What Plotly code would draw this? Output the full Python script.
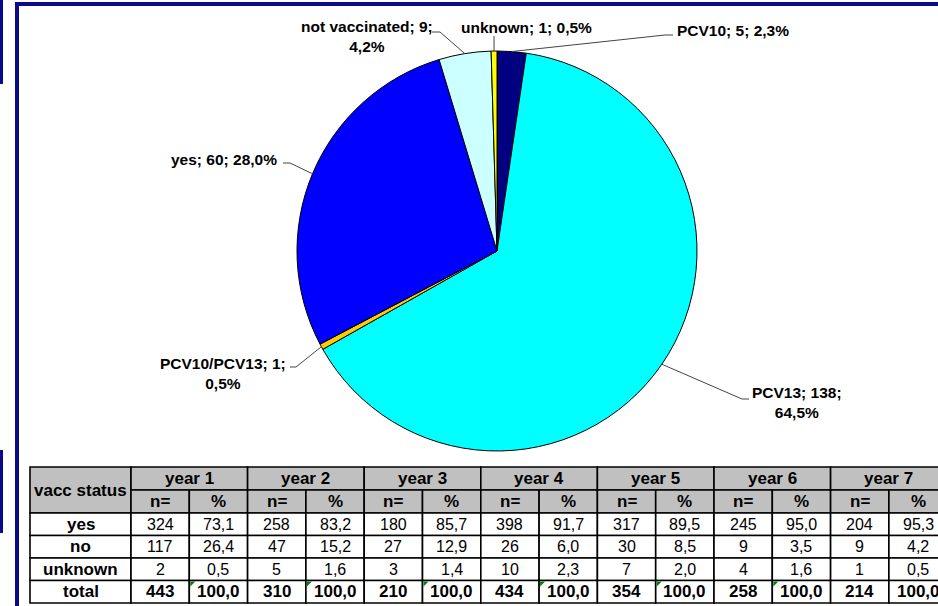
import math
import plotly.graph_objects as go

W, H = 938, 606

# --- pie data (clockwise from 12 o'clock) ---
slice_labels = ["PCV10", "PCV13", "PCV10/PCV13", "yes", "not vaccinated", "unknown"]
slice_counts = [5, 138, 1, 60, 9, 1]
slice_pcts = [2.3, 64.5, 0.5, 28.0, 4.2, 0.5]
slice_colors = ["#000080", "#00FFFF", "#FFCC00", "#0000FF", "#CCFFFF", "#FFFF00"]

# --- table data ---
years = ["year 1", "year 2", "year 3", "year 4", "year 5", "year 6", "year 7"]
status = ["yes", "no", "unknown", "total"]
n_yes = [324, 258, 180, 398, 317, 245, 204]
n_no = [117, 47, 27, 26, 30, 9, 9]
n_unknown = [2, 5, 3, 10, 7, 4, 1]
n_total = [443, 310, 210, 434, 354, 258, 214]
pct_yes = [73.1, 83.2, 85.7, 91.7, 89.5, 95.0, 95.3]
pct_no = [26.4, 15.2, 12.9, 6.0, 8.5, 3.5, 4.2]
pct_unknown = [0.5, 1.6, 1.4, 2.3, 2.0, 1.6, 0.5]
pct_total = [100.0, 100.0, 100.0, 100.0, 100.0, 100.0, 100.0]

FONT = "Liberation Sans, Arial, sans-serif"
NAVY = "#0A0A8C"


def fx(x):
    return x / W


def fy(y):
    return 1 - y / H


def comma(v, d=1):
    return f"{v:.{d}f}".replace(".", ",")


# pie geometry (pixels)
CX, CY, R = 497, 251, 200

fig = go.Figure(go.Pie(
    labels=slice_labels, values=slice_counts,
    marker=dict(colors=slice_colors, line=dict(color="black", width=1)),
    sort=False, direction="clockwise", rotation=0,
    textinfo="none", showlegend=False,
    domain=dict(x=[fx(CX - R), fx(CX + R)], y=[fy(CY + R), fy(CY - R)]),
))

shapes = []
annotations = []

# label placement: text centre, anchor, leader elbow and tick end (pixels)
label_pos = {
    "PCV10": dict(x=675, y=30, xanchor="left", elbow=(665, 35), tick=(673, 35)),
    "PCV13": dict(x=797, y=402, xanchor="center", elbow=(742, 399), tick=(749, 399)),
    "PCV10/PCV13": dict(x=223, y=373, xanchor="center", elbow=(296, 367), tick=(290, 367)),
    "yes": dict(x=279, y=160, xanchor="right", elbow=(290, 163), tick=(283, 163)),
    "not vaccinated": dict(x=367, y=36, xanchor="center", elbow=(440, 32), tick=(432, 32)),
    "unknown": dict(x=526, y=27, xanchor="center", elbow=(494, 36), tick=(494, 36)),
}
two_line = {"PCV13", "PCV10/PCV13", "not vaccinated"}

total = sum(slice_counts)
cum = 0
for lab, cnt, pct in zip(slice_labels, slice_counts, slice_pcts):
    mid = (cum + cnt / 2) / total * 2 * math.pi
    cum += cnt
    px_, py_ = CX + R * math.sin(mid), CY - R * math.cos(mid)
    p = label_pos[lab]
    ex, ey = p["elbow"]
    tx, ty = p["tick"]
    shapes.append(dict(type="path", xref="paper", yref="paper",
                       path=f"M {fx(px_)} {fy(py_)} L {fx(ex)} {fy(ey)} L {fx(tx)} {fy(ty)}",
                       line=dict(color="#444444", width=1)))
    if lab in two_line:
        txt = f"<b>{lab}; {cnt};<br>{comma(pct)}%</b>"
    else:
        txt = f"<b>{lab}; {cnt}; {comma(pct)}%</b>"
    annotations.append(dict(x=fx(p["x"]), y=fy(p["y"]), xref="paper", yref="paper",
                            text=txt, showarrow=False, xanchor=p["xanchor"],
                            yanchor="middle", align="center",
                            font=dict(family=FONT, size=15.5, color="black")))

# --- table ---
T_LEFT, FIRST_W, YEAR_W = 30, 101, 116.6
ROW_Y = [467, 490, 513, 535.5, 558, 580.5, 603]
HEAD_BG = "#C0C0C0"
LW = 1.6


def cell(x0, y0, x1, y1, fill="white"):
    shapes.append(dict(type="rect", xref="paper", yref="paper",
                       x0=fx(x0), x1=fx(x1), y0=fy(y1), y1=fy(y0),
                       fillcolor=fill, line=dict(color="black", width=LW), layer="above"))


def text(x, y, s, bold=False):
    annotations.append(dict(x=fx(x), y=fy(y), xref="paper", yref="paper",
                            text=f"<b>{s}</b>" if bold else s, showarrow=False,
                            xanchor="center", yanchor="middle",
                            font=dict(family=FONT, size=17 if bold else 16, color="black")))


first_right = T_LEFT + FIRST_W
cell(T_LEFT, ROW_Y[0], first_right, ROW_Y[2], HEAD_BG)
text((T_LEFT + first_right) / 2, (ROW_Y[0] + ROW_Y[2]) / 2, "vacc status", bold=True)
for r, st in enumerate(status):
    y0, y1 = ROW_Y[r + 2], ROW_Y[r + 3]
    cell(T_LEFT, y0, first_right, y1)
    text((T_LEFT + first_right) / 2, (y0 + y1) / 2, st, bold=True)

n_rows = [n_yes, n_no, n_unknown, n_total]
p_rows = [pct_yes, pct_no, pct_unknown, pct_total]
for i, yr in enumerate(years):
    xa = first_right + i * YEAR_W
    xm = xa + YEAR_W / 2
    xb = xa + YEAR_W
    cell(xa, ROW_Y[0], xb, ROW_Y[1], HEAD_BG)
    text(xm, (ROW_Y[0] + ROW_Y[1]) / 2, yr, bold=True)
    cell(xa, ROW_Y[1], xm, ROW_Y[2], HEAD_BG)
    cell(xm, ROW_Y[1], xb, ROW_Y[2], HEAD_BG)
    text((xa + xm) / 2, (ROW_Y[1] + ROW_Y[2]) / 2, "n=", bold=True)
    text((xm + xb) / 2, (ROW_Y[1] + ROW_Y[2]) / 2, "%", bold=True)
    for r in range(4):
        y0, y1 = ROW_Y[r + 2], ROW_Y[r + 3]
        bold = r == 3
        cell(xa, y0, xm, y1)
        cell(xm, y0, xb, y1)
        text((xa + xm) / 2, (y0 + y1) / 2, str(n_rows[r][i]), bold=bold)
        text((xm + xb) / 2, (y0 + y1) / 2, comma(p_rows[r][i]), bold=bold)
    # excel "number as text" marker in the total % cell
    if i < 6:
        y0 = ROW_Y[5]
        shapes.append(dict(type="path", xref="paper", yref="paper",
                           path=f"M {fx(xm + 1)} {fy(y0 + 1)} L {fx(xm + 6)} {fy(y0 + 1)} "
                                f"L {fx(xm + 1)} {fy(y0 + 6)} Z",
                           fillcolor="#008000", line=dict(width=0), layer="above"))

# --- slide frame ---
for x0, y0, x1, y1 in [(15, 2, 19, H), (15, 2, W, 6), (0, 0, 3, 84), (0, 450, 3, 533)]:
    shapes.append(dict(type="rect", xref="paper", yref="paper",
                       x0=fx(x0), x1=fx(x1), y0=fy(y1), y1=fy(y0),
                       fillcolor=NAVY, line=dict(width=0)))

fig.update_layout(
    width=W, height=H, autosize=False,
    margin=dict(l=0, r=0, t=0, b=0),
    paper_bgcolor="white", plot_bgcolor="white",
    shapes=shapes, annotations=annotations,
    font=dict(family=FONT),
)

# page body has a default 8px margin; drop it so the figure fills the window
fig.write_html("out.html", config={"displayModeBar": False},
               post_script="document.body.style.margin='0';")
